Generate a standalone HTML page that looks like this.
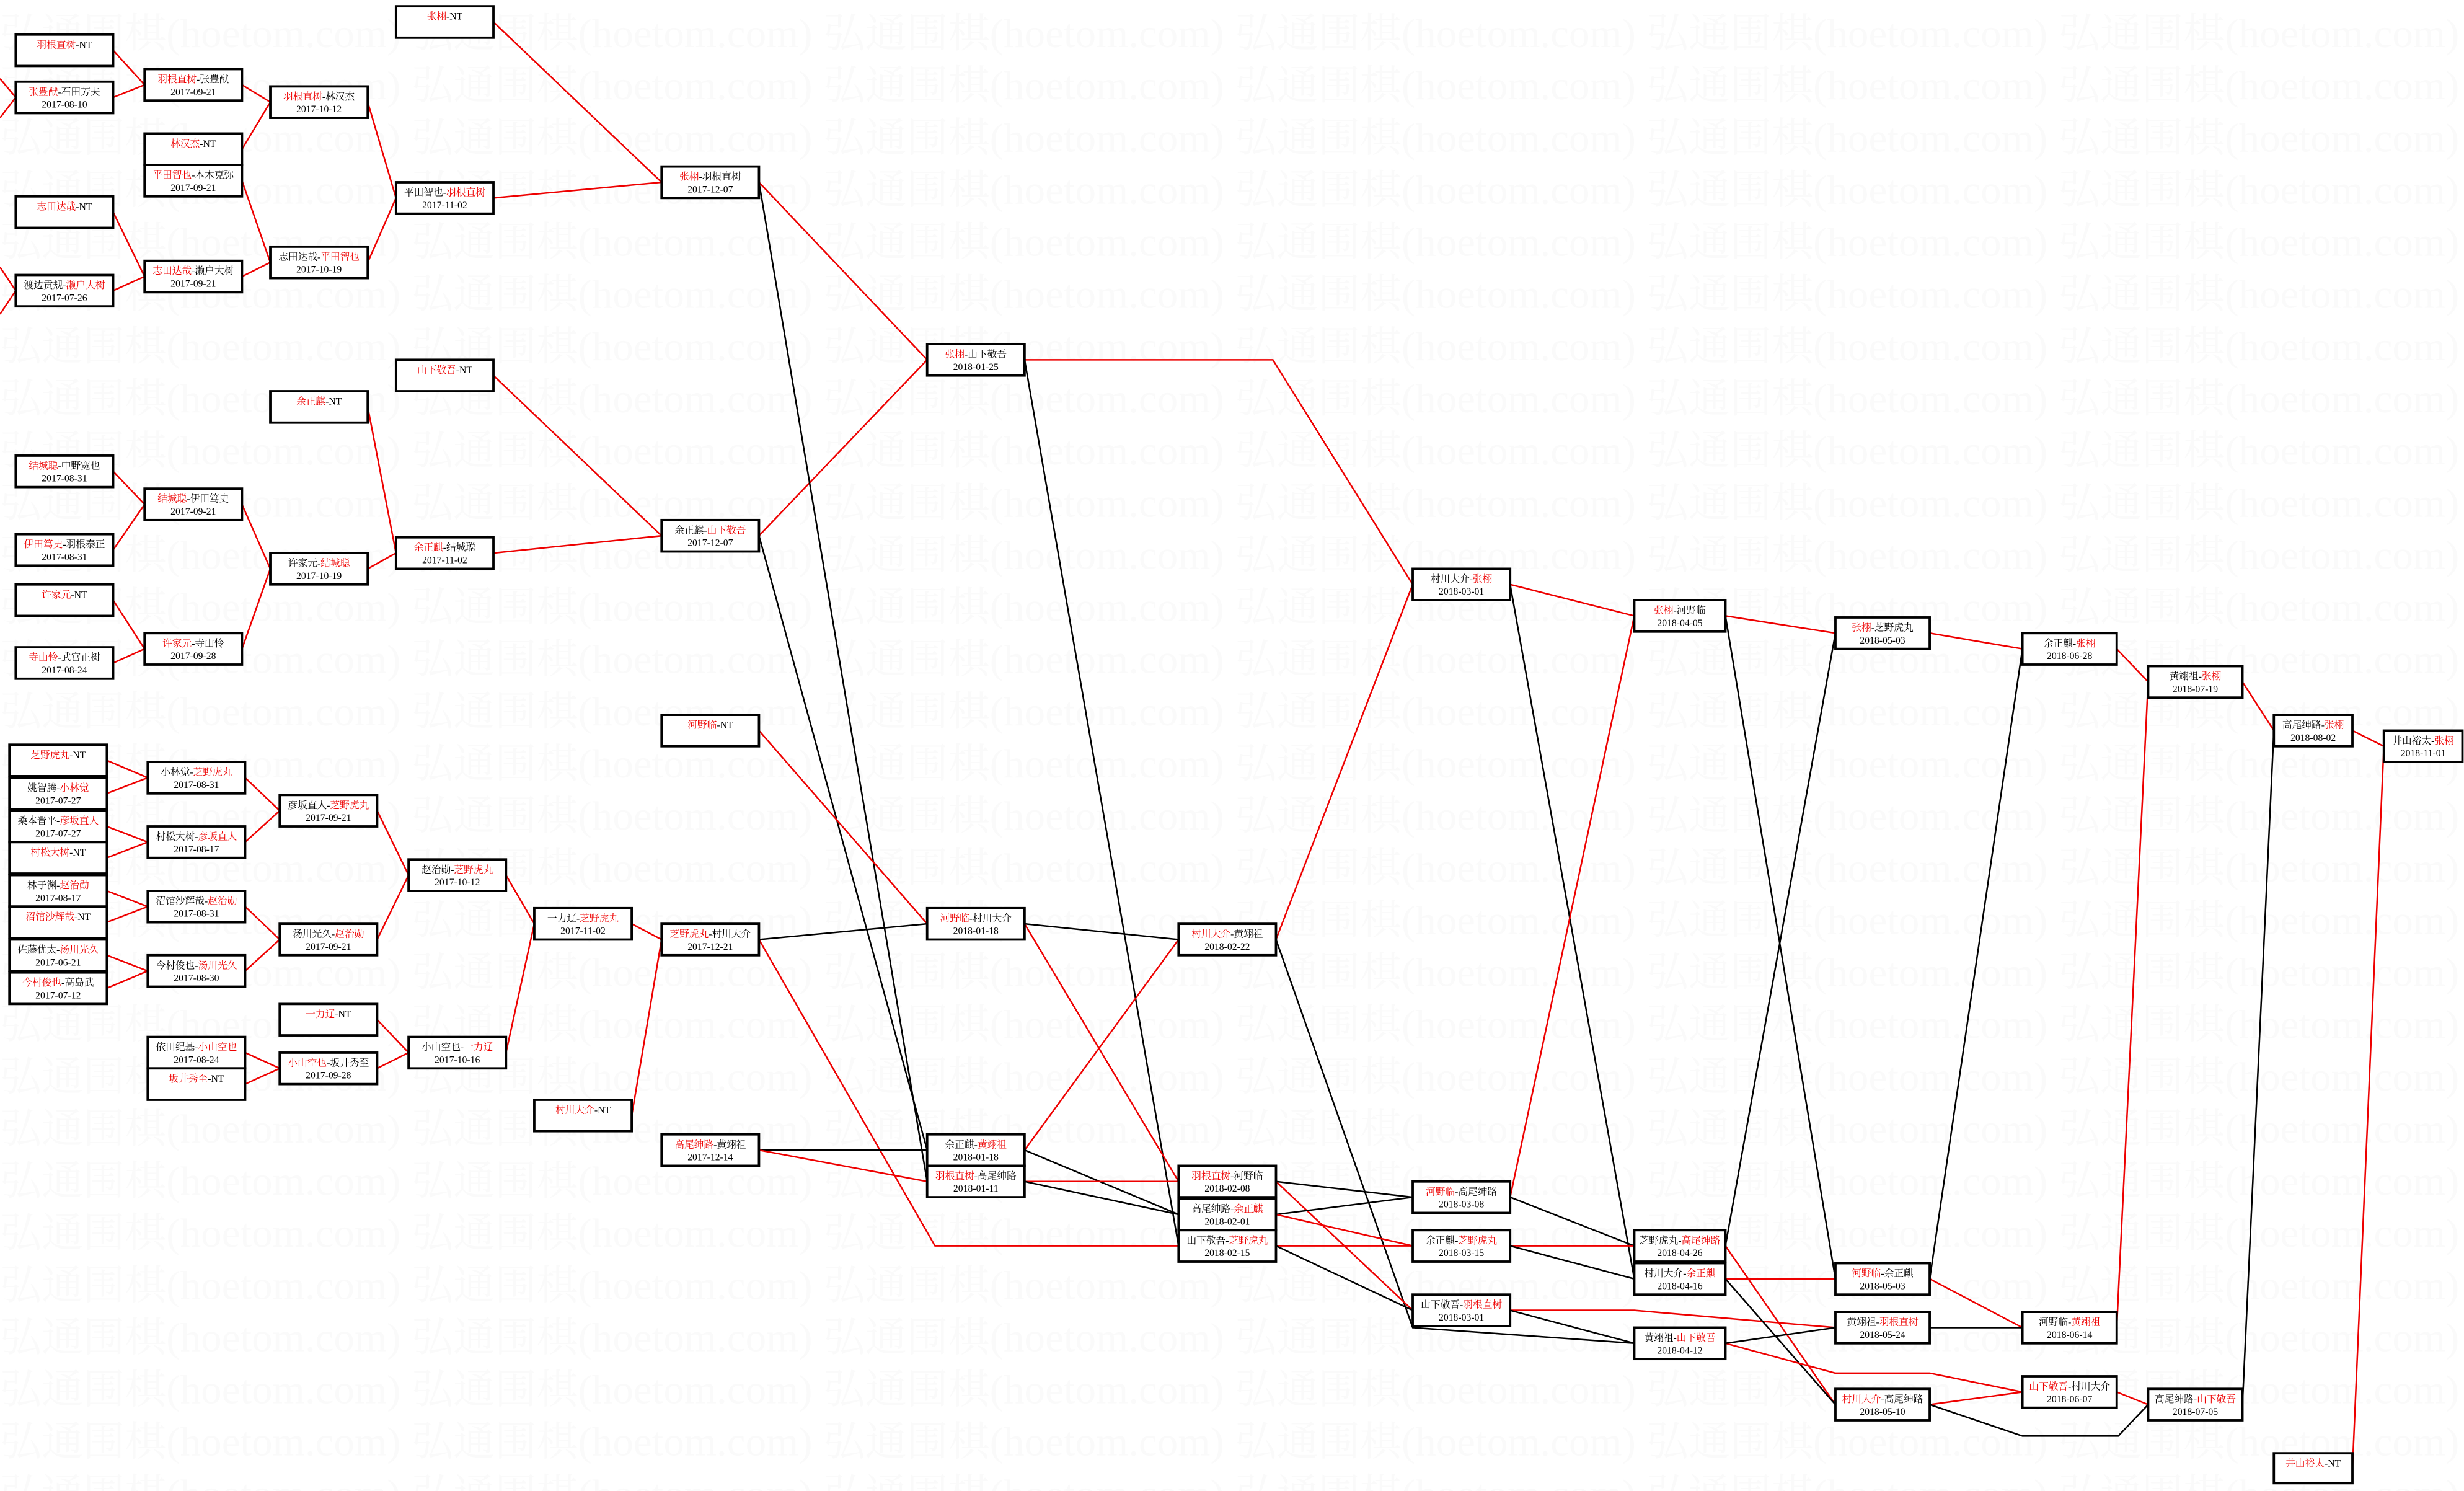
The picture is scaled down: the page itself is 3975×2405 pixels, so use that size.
<!DOCTYPE html>
<html><head><meta charset="utf-8"><style>
html,body{margin:0;padding:0;background:#fff;}
svg{display:block;}
text{font-family:"Liberation Serif","Noto Serif CJK SC","Noto Sans CJK SC",serif;}
</style></head><body>
<svg id="s" xmlns="http://www.w3.org/2000/svg" width="3975" height="2405" viewBox="0 0 1568 949" preserveAspectRatio="none">
<g id="wm"></g><g id="ln"></g><g id="bx"></g>
</svg>
<script>
var NS="http://www.w3.org/2000/svg";
function el(t,a,p,txt){var e=document.createElementNS(NS,t);for(var k in a)e.setAttribute(k,a[k]);if(txt!=null)e.textContent=txt;p.appendChild(e);return e;}
var wm=document.getElementById('wm'),ln=document.getElementById('ln'),bx=document.getElementById('bx');
for(var r=0;r<29;r++){var y=30+r*33.2;for(var c=-1;c<7;c++){el('text',{x:c*262,y:y,'font-size':26,fill:'#fafafa',textLength:255,lengthAdjust:'spacingAndGlyphs'},wm,'弘通围棋(hoetom.com)');}}
var B=[
[10,22,62,20,'羽根直树','NT',1,''],[10,52,62,20,'张豊猷','石田芳夫',1,'2017-08-10'],
[10,125,62,20,'志田达哉','NT',1,''],[10,175,62,20,'渡边贡规','濑户大树',2,'2017-07-26'],
[10,290,62,20,'结城聪','中野宽也',1,'2017-08-31'],[10,340,62,20,'伊田笃史','羽根泰正',1,'2017-08-31'],
[10,372,62,20,'许家元','NT',1,''],[10,412,62,20,'寺山怜','武宫正树',1,'2017-08-24'],
[6,474,62,20,'芝野虎丸','NT',1,''],[6,495,62,20,'姚智腾','小林觉',2,'2017-07-27'],
[6,516,62,20,'桑本晋平','彦坂直人',2,'2017-07-27'],[6,536,62,20,'村松大树','NT',1,''],
[6,557,62,20,'林子渊','赵治勋',2,'2017-08-17'],[6,577,62,20,'沼馆沙辉哉','NT',1,''],
[6,598,62,20,'佐藤优太','汤川光久',2,'2017-06-21'],[6,619,62,20,'今村俊也','高岛武',1,'2017-07-12'],
[92,44,62,20,'羽根直树','张豊猷',1,'2017-09-21'],[92,85,62,20,'林汉杰','NT',1,''],
[92,105,62,20,'平田智也','本木克弥',1,'2017-09-21'],[92,166,62,20,'志田达哉','濑户大树',1,'2017-09-21'],
[92,311,62,20,'结城聪','伊田笃史',1,'2017-09-21'],[92,403,62,20,'许家元','寺山怜',1,'2017-09-28'],
[94,485,62,20,'小林觉','芝野虎丸',2,'2017-08-31'],[94,526,62,20,'村松大树','彦坂直人',2,'2017-08-17'],
[94,567,62,20,'沼馆沙辉哉','赵治勋',2,'2017-08-31'],[94,608,62,20,'今村俊也','汤川光久',2,'2017-08-30'],
[94,660,62,20,'依田纪基','小山空也',2,'2017-08-24'],[94,680,62,20,'坂井秀至','NT',1,''],
[172,55,62,20,'羽根直树','林汉杰',1,'2017-10-12'],[172,157,62,20,'志田达哉','平田智也',2,'2017-10-19'],
[172,249,62,20,'余正麒','NT',1,''],[172,352,62,20,'许家元','结城聪',2,'2017-10-19'],
[178,506,62,20,'彦坂直人','芝野虎丸',2,'2017-09-21'],[178,588,62,20,'汤川光久','赵治勋',2,'2017-09-21'],
[178,639,62,20,'一力辽','NT',1,''],[178,670,62,20,'小山空也','坂井秀至',1,'2017-09-28'],
[252,4,62,20,'张栩','NT',1,''],[252,116,62,20,'平田智也','羽根直树',2,'2017-11-02'],
[252,229,62,20,'山下敬吾','NT',1,''],[252,342,62,20,'余正麒','结城聪',1,'2017-11-02'],
[260,547,62,20,'赵治勋','芝野虎丸',2,'2017-10-12'],[260,660,62,20,'小山空也','一力辽',2,'2017-10-16'],
[340,578,62,20,'一力辽','芝野虎丸',2,'2017-11-02'],[340,700,62,20,'村川大介','NT',1,''],
[421,106,62,20,'张栩','羽根直树',1,'2017-12-07'],[421,331,62,20,'余正麒','山下敬吾',2,'2017-12-07'],
[421,455,62,20,'河野临','NT',1,''],[421,588,62,20,'芝野虎丸','村川大介',1,'2017-12-21'],
[421,722,62,20,'高尾绅路','黄翊祖',1,'2017-12-14'],
[590,219,62,20,'张栩','山下敬吾',1,'2018-01-25'],[590,578,62,20,'河野临','村川大介',1,'2018-01-18'],
[590,722,62,20,'余正麒','黄翊祖',2,'2018-01-18'],[590,742,62,20,'羽根直树','高尾绅路',1,'2018-01-11'],
[750,588,62,20,'村川大介','黄翊祖',1,'2018-02-22'],[750,742,62,20,'羽根直树','河野临',1,'2018-02-08'],
[750,763,62,20,'高尾绅路','余正麒',2,'2018-02-01'],[750,783,62,20,'山下敬吾','芝野虎丸',2,'2018-02-15'],
[899,362,62,20,'村川大介','张栩',2,'2018-03-01'],[899,752,62,20,'河野临','高尾绅路',1,'2018-03-08'],
[899,783,62,20,'余正麒','芝野虎丸',2,'2018-03-15'],[899,824,62,20,'山下敬吾','羽根直树',2,'2018-03-01'],
[1040,382,58,20,'张栩','河野临',1,'2018-04-05'],[1040,783,58,20,'芝野虎丸','高尾绅路',2,'2018-04-26'],
[1040,804,58,20,'村川大介','余正麒',2,'2018-04-16'],[1040,845,58,20,'黄翊祖','山下敬吾',2,'2018-04-12'],
[1168,393,60,20,'张栩','芝野虎丸',1,'2018-05-03'],[1168,804,60,20,'河野临','余正麒',1,'2018-05-03'],
[1168,835,60,20,'黄翊祖','羽根直树',2,'2018-05-24'],[1168,884,60,20,'村川大介','高尾绅路',1,'2018-05-10'],
[1287,403,60,20,'余正麒','张栩',2,'2018-06-28'],[1287,835,60,20,'河野临','黄翊祖',2,'2018-06-14'],
[1287,876,60,20,'山下敬吾','村川大介',1,'2018-06-07'],
[1367,424,60,20,'黄翊祖','张栩',2,'2018-07-19'],[1367,884,60,20,'高尾绅路','山下敬吾',2,'2018-07-05'],
[1447,455,50,20,'高尾绅路','张栩',2,'2018-08-02'],[1517,465,50,20,'井山裕太','张栩',2,'2018-11-01'],
[1447,925,50,19,'井山裕太','NT',1,'']
];
B.forEach(function(b){
 el('rect',{x:b[0],y:b[1],width:b[2],height:b[3],fill:'#fff',stroke:'#000','stroke-width':1.5},bx);
 var cx=b[0]+b[2]/2;
 var t=el('text',{x:cx,y:b[1]+8.5,'font-size':6.2,'text-anchor':'middle'},bx);
 el('tspan',{fill:b[6]==1?'#e00':'#000'},t,b[4]);
 el('tspan',{fill:'#000'},t,'-');
 el('tspan',{fill:b[6]==2?'#e00':'#000'},t,b[5]);
 if(b[7])el('text',{x:cx,y:b[1]+16.5,'font-size':6.2,'text-anchor':'middle',fill:'#000'},bx,b[7]);
});
var R='#e00',K='#000';
var L=[
[R,[[72,32],[92,54]]],[R,[[72,62],[92,54]]],[R,[[72,135],[92,176]]],[R,[[72,185],[92,176]]],
[R,[[0,50],[10,62]]],[R,[[0,75],[10,62]]],[R,[[0,170],[10,185]]],[R,[[0,200],[10,185]]],
[R,[[154,54],[172,65]]],[R,[[154,95],[172,65]]],[R,[[154,115],[172,167]]],[R,[[154,176],[172,167]]],
[R,[[234,65],[252,126]]],[R,[[234,167],[252,126]]],
[R,[[314,14],[421,116]]],[R,[[314,126],[421,116]]],
[R,[[72,300],[92,321]]],[R,[[72,350],[92,321]]],[R,[[72,382],[92,413]]],[R,[[72,422],[92,413]]],
[R,[[154,321],[172,362]]],[R,[[154,413],[172,362]]],[R,[[234,259],[252,352]]],[R,[[234,362],[252,352]]],
[R,[[314,239],[421,341]]],[R,[[314,352],[421,341]]],
[R,[[483,116],[590,229]]],[R,[[483,341],[590,229]]],
[K,[[483,116],[590,752]]],[K,[[483,341],[590,732]]],
[K,[[652,229],[750,793]]],[R,[[652,229],[810,229],[899,372]]],
[R,[[68,484],[94,495]]],[R,[[68,505],[94,495]]],[R,[[68,526],[94,536]]],[R,[[68,546],[94,536]]],
[R,[[68,567],[94,577]]],[R,[[68,587],[94,577]]],[R,[[68,608],[94,618]]],[R,[[68,629],[94,618]]],
[R,[[156,495],[178,516]]],[R,[[156,536],[178,516]]],[R,[[156,577],[178,598]]],[R,[[156,618],[178,598]]],
[R,[[240,516],[260,557]]],[R,[[240,598],[260,557]]],
[R,[[156,670],[178,680]]],[R,[[156,690],[178,680]]],[R,[[240,649],[260,670]]],[R,[[240,680],[260,670]]],
[R,[[322,557],[340,588]]],[R,[[322,670],[340,588]]],
[R,[[402,588],[421,598]]],[R,[[402,710],[421,598]]],
[R,[[483,465],[590,588]]],[K,[[483,598],[590,588]]],
[R,[[483,598],[595,793],[750,793]]],
[K,[[483,732],[590,732]]],[R,[[483,732],[590,752]]],
[K,[[652,588],[750,598]]],[R,[[652,588],[750,752]]],
[R,[[652,732],[750,598]]],[K,[[652,732],[750,773]]],
[R,[[652,752],[750,752]]],[K,[[652,752],[750,773]]],
[R,[[812,598],[899,372]]],[K,[[812,598],[899,845],[1040,855]]],
[K,[[812,752],[899,762]]],[R,[[812,752],[899,834]]],
[K,[[812,773],[899,762]]],[R,[[812,773],[899,793]]],
[R,[[812,793],[899,793]]],[K,[[812,793],[899,834]]],
[R,[[961,372],[1040,392]]],[K,[[961,372],[1040,814]]],
[R,[[961,762],[1040,392]]],[K,[[961,762],[1040,793]]],
[R,[[961,793],[1040,793]]],[K,[[961,793],[1040,814]]],
[R,[[961,834],[1040,834],[1168,845]]],[K,[[961,834],[1040,855]]],
[R,[[1098,392],[1168,403]]],[K,[[1098,392],[1168,814]]],
[K,[[1098,793],[1168,403]]],[R,[[1098,793],[1168,894]]],
[R,[[1098,814],[1168,814]]],[K,[[1098,814],[1168,894]]],
[R,[[1098,855],[1168,874],[1228,874],[1287,886]]],[K,[[1098,855],[1168,845]]],
[R,[[1228,403],[1287,413]]],[K,[[1228,814],[1287,413]]],
[R,[[1228,814],[1287,845]]],[K,[[1228,845],[1287,845]]],
[R,[[1228,894],[1287,886]]],[K,[[1228,894],[1287,914],[1348,914],[1367,894]]],
[R,[[1347,886],[1367,894]]],
[R,[[1347,413],[1367,434]]],[R,[[1347,845],[1367,434]]],
[R,[[1427,434],[1447,465]]],[K,[[1427,894],[1447,465]]],
[R,[[1497,465],[1517,475]]],[R,[[1497,935],[1517,475]]]
];
L.forEach(function(l){el('polyline',{points:l[1].map(function(p){return p.join(',')}).join(' '),fill:'none',stroke:l[0],'stroke-width':1},ln);});
</script>
</body></html>
